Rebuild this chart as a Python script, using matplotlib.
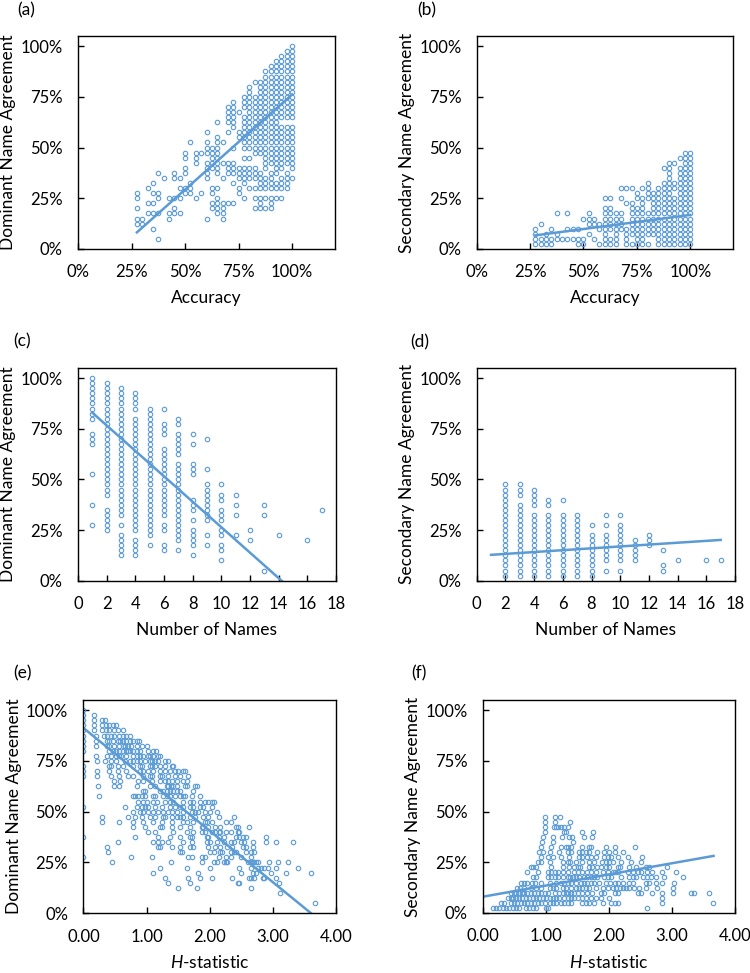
import matplotlib
matplotlib.use("Agg")
import matplotlib.pyplot as plt

plt.rcParams['font.family'] = ['Lato', 'DejaVu Sans']
plt.rcParams['mathtext.fontset'] = 'custom'
plt.rcParams['mathtext.rm'] = 'Lato'
plt.rcParams['mathtext.it'] = 'Lato:italic'

BLUE = '#5b9bd5'
N_RESP = 40  # agreement counts are out of 40 responses

# ---- (a)/(b): accuracy (%) vs dominant / secondary agreement (counts) ----
accuracy = [27.5, 30.0, 32.5, 35.0, 37.5, 40.0, 42.5, 45.0, 47.5, 50.0,
            52.5, 55.0, 57.5, 60.0, 62.5, 65.0, 67.5, 70.0, 72.5, 75.0,
            77.5, 80.0, 82.5, 85.0, 87.5, 90.0, 92.5, 95.0, 97.5, 100.0]

dom_by_acc = [
    [5, 6, 8, 10, 11],
    [5, 6],
    [7, 9, 12],
    [4, 7, 9, 11, 13],
    [2, 7, 10, 11, 15],
    [14],
    [6, 7, 10],
    [7, 8, 10, 14, 15],
    [7, 10, 12, 14],
    [11, 12, 15, 16, 18, 19],
    [11, 12, 13, 21],
    [10, 17, 18, 19],
    [11, 19],
    [6, 14, 15, 16, 17, 19, 20, 21, 23],
    [8, 9, 11, 12, 16, 17, 18, 19, 20],
    [7, 8, 9, 10, 12, 15, 16, 17, 18, 19, 20, 21, 22, 25],
    [6, 7, 8, 9, 14, 17, 21],
    [9, 15, 16, 17, 23, 25, 26, 27, 28],
    [9, 13, 15, 16, 17, 20, 24, 25, 26, 27, 28, 29],
    [11, 12, 14, 15, 16, 22, 23, 27],
    [10, 13, 14, 15, 16, 18, 20, 21, 22, 23, 24, 25, 26, 28, 29, 30],
    [12, 14, 15, 16, 18, 20, 21, 22, 23, 24, 25, 26, 27, 28, 29, 30, 31, 32],
    [8, 10, 12, 14, 15, 16, 19, 20, 21, 22, 23, 24, 25, 26, 27, 28, 29, 30, 33],
    [8, 9, 10, 12, 13, 14, 15, 19, 20, 21, 22, 23, 24, 25, 26, 27, 28, 29, 30,
     31, 32, 33],
    [8, 10, 12, 13, 14, 16, 17, 18, 19, 20, 21, 22, 23, 24, 25, 26, 27, 28, 29,
     30, 31, 32, 33, 34, 35],
    [8, 9, 10, 12, 13, 14, 15, 17, 18, 19, 20, 21, 22, 23, 24, 25, 26, 27, 28,
     29, 30, 31, 32, 33, 34, 35, 36],
    [10, 12, 13, 15, 16, 17, 18, 19, 20, 21, 22, 23, 24, 25, 26, 27, 28, 29, 30,
     31, 32, 33, 34, 35, 36, 37],
    [10, 12, 13, 14, 16, 17, 18, 19, 20, 21, 22, 23, 24, 26, 27, 28, 29, 30, 31,
     32, 33, 34, 35, 36, 37, 38],
    [12, 13, 14, 15, 17, 18, 19, 20, 21, 22, 23, 24, 26, 27, 28, 29, 30, 31, 32,
     33, 34, 35, 36, 37, 38, 39],
    [14, 16, 17, 18, 19, 20, 21, 22, 23, 24, 26, 27, 28, 29, 30, 31, 32, 33, 34,
     35, 36, 37, 38, 39, 40],
]

sec_by_acc = [
    [1, 2, 3, 4],
    [1, 2, 5],
    [1, 2, 3],
    [1, 2, 4],
    [2, 3, 7],
    [2],
    [2, 4, 7],
    [2, 4],
    [1, 2, 4],
    [1, 2, 6],
    [3, 5, 6, 7],
    [2, 5, 6],
    [1, 4, 5],
    [1, 2, 3, 4, 5, 6, 7, 8, 10],
    [1, 2, 4, 5, 6, 7, 8, 10],
    [1, 2, 3, 4, 5, 6, 7],
    [4, 5, 6, 7, 10, 12],
    [1, 2, 3, 4, 9, 12],
    [1, 3, 4, 5, 6, 7, 8, 9, 12],
    [1, 2, 3, 4, 5, 6, 7, 8, 10, 11],
    [1, 2, 3, 4, 5, 6, 7, 8, 9, 10, 12],
    [1, 3, 4, 5, 6, 7, 10, 11, 12, 13],
    [3, 4, 5, 6, 7, 8, 9, 10, 11],
    [1, 2, 3, 4, 5, 6, 7, 8, 9, 10, 11, 12],
    [1, 2, 3, 4, 5, 6, 7, 8, 9, 10, 11, 12, 13, 16],
    [1, 2, 3, 4, 5, 6, 7, 8, 9, 10, 11, 12, 13, 14, 15, 16, 17],
    [1, 2, 3, 4, 5, 6, 7, 8, 9, 10, 12, 13, 17],
    [1, 2, 3, 4, 5, 6, 7, 8, 9, 10, 11, 12, 13, 14, 15, 16, 18],
    [1, 2, 3, 4, 5, 6, 7, 8, 9, 10, 11, 12, 13, 14, 15, 16, 17, 18, 19],
    [1, 2, 3, 4, 5, 6, 7, 8, 9, 10, 11, 12, 13, 14, 15, 16, 17, 18, 19],
]

# ---- (c)/(d): number of names vs agreement (counts) ----
names_c = [1, 2, 3, 4, 5, 6, 7, 8, 9, 10, 11, 12, 13, 14, 16, 17]
dom_by_names = [
    [11, 15, 21, 27, 28, 29, 32, 33, 34, 35, 36, 37, 38, 39, 40],
    [10, 11, 12, 13, 14, 17, 18, 19, 20, 21, 22, 23, 24, 25, 26, 27, 28, 29,
     30, 31, 32, 33, 34, 35, 36, 37, 38, 39],
    [5, 6, 7, 8, 9, 11, 13, 14, 15, 16, 17, 18, 19, 20, 21, 22, 23, 24, 25, 26,
     27, 28, 29, 30, 31, 32, 33, 34, 35, 36, 37, 38],
    [5, 6, 7, 8, 10, 11, 12, 13, 14, 15, 16, 17, 18, 19, 20, 21, 22, 23, 24, 25,
     26, 27, 28, 29, 30, 31, 32, 34, 35, 36, 37],
    [7, 9, 10, 11, 12, 13, 14, 15, 16, 17, 18, 19, 20, 21, 22, 23, 24, 25, 26,
     27, 28, 29, 30, 31, 32, 33, 34],
    [6, 7, 10, 11, 13, 14, 15, 16, 17, 18, 19, 20, 21, 22, 23, 24, 25, 26, 29,
     30, 31, 34],
    [6, 8, 9, 10, 11, 12, 13, 14, 15, 16, 17, 18, 19, 20, 21, 22, 23, 25, 26,
     27, 28, 29, 31, 32],
    [5, 7, 8, 9, 10, 12, 14, 15, 16, 21, 22, 23, 27, 29],
    [7, 9, 12, 13, 14, 15, 16, 17, 18, 19, 22, 28],
    [4, 6, 7, 9, 10, 12, 13, 14, 16, 17, 19],
    [9, 13, 15, 17],
    [8, 10],
    [2, 13, 15],
    [9],
    [8],
    [14],
]

names_d = [2, 3, 4, 5, 6, 7, 8, 9, 10, 11, 12, 13, 14, 16, 17]
sec_by_names = [
    [1, 2, 3, 4, 5, 6, 7, 8, 9, 10, 11, 12, 13, 14, 15, 16, 17, 18, 19],
    [1, 2, 3, 4, 5, 6, 7, 8, 9, 10, 11, 12, 13, 14, 15, 17, 18, 19],
    [1, 2, 3, 4, 5, 6, 7, 8, 9, 10, 11, 12, 13, 15, 16, 17, 18],
    [1, 2, 3, 4, 5, 6, 7, 8, 9, 10, 11, 12, 13, 15, 16],
    [1, 2, 3, 4, 5, 6, 7, 8, 9, 10, 11, 12, 13, 16],
    [1, 2, 3, 4, 5, 6, 7, 8, 9, 10, 11, 12, 13],
    [1, 2, 3, 4, 5, 6, 7, 8, 9, 11],
    [2, 4, 5, 6, 7, 8, 9, 11, 13],
    [2, 4, 5, 6, 7, 8, 9, 10, 11, 13],
    [4, 5, 6, 7, 8],
    [7, 8, 9],
    [2, 3, 6],
    [4],
    [4],
    [4],
]

# ---- (e): H-statistic vs dominant agreement (counts) ----
dom_at_h0 = [11, 15, 21, 27, 28, 29, 32, 33, 34, 35, 36, 37, 38, 39, 40]
dom_levels_e = [39, 38, 37, 36, 35, 34, 33, 32, 31, 30, 29, 28, 27, 26, 25, 24,
                23, 22, 21, 20, 19, 18, 17, 16, 15, 14, 13, 12, 11, 10, 9, 8,
                7, 6, 5, 4, 2]
h_by_dom = [
    [0.17],
    [0.17, 0.29, 0.34],
    [0.17, 0.29, 0.35, 0.40, 0.46, 0.52],
    [0.17, 0.30, 0.36, 0.41, 0.49, 0.54, 0.62],
    [0.20, 0.32, 0.37, 0.44, 0.49, 0.57, 0.62, 0.67, 0.73],
    [0.20, 0.37, 0.41, 0.46, 0.54, 0.58, 0.62, 0.68, 0.73, 0.78, 0.84, 0.88],
    [0.20, 0.38, 0.41, 0.49, 0.57, 0.62, 0.65, 0.70, 0.76, 0.84, 0.92, 1.00],
    [0.41, 0.46, 0.52, 0.57, 0.62, 0.67, 0.70, 0.73, 0.78, 0.84, 0.89, 1.02,
     1.10, 1.15],
    [0.20, 0.38, 0.44, 0.52, 0.57, 0.60, 0.68, 0.78, 0.84, 0.89, 0.94, 1.02,
     1.05, 1.10, 1.18, 1.21],
    [0.21, 0.34, 0.44, 0.52, 0.65, 0.73, 0.78, 0.84, 0.89, 0.97, 1.05, 1.08,
     1.13, 1.18, 1.29, 1.34],
    [0.40, 0.44, 0.54, 0.62, 0.78, 0.89, 0.93, 1.05, 1.09, 1.13, 1.21, 1.29,
     1.40, 1.42],
    [0.21, 0.41, 0.55, 0.68, 0.89, 0.94, 1.02, 1.10, 1.21, 1.29, 1.37, 1.45,
     1.49, 1.58, 1.61],
    [0.22, 0.44, 0.56, 0.70, 0.78, 0.94, 1.05, 1.08, 1.21, 1.25, 1.34, 1.45,
     1.53, 1.66],
    [0.49, 0.58, 0.86, 0.94, 1.08, 1.21, 1.29, 1.34, 1.40, 1.48, 1.58, 1.64],
    [0.23, 0.49, 0.57, 0.84, 1.05, 1.13, 1.32, 1.34, 1.38, 1.42, 1.48, 1.61,
     1.64, 1.77, 1.80],
    [0.94, 0.97, 1.21, 1.26, 1.32, 1.37, 1.42, 1.48, 1.53, 1.74],
    [0.25, 0.78, 0.81, 0.86, 0.92, 0.97, 1.10, 1.13, 1.26, 1.32, 1.37, 1.45,
     1.53, 1.58, 1.61, 1.72, 1.85],
    [0.86, 0.94, 1.00, 1.10, 1.16, 1.29, 1.37, 1.42, 1.58, 1.69, 1.74, 1.85,
     1.93, 1.98, 2.04, 2.06],
    [0.65, 0.84, 0.92, 0.97, 1.02, 1.13, 1.24, 1.37, 1.45, 1.53, 1.58, 1.69,
     1.74, 1.85, 1.90, 2.04],
    [0.78, 0.89, 0.94, 1.02, 1.10, 1.18, 1.26, 1.34, 1.40, 1.48, 1.58, 1.72,
     1.77, 1.82, 1.93, 2.01, 2.12],
    [0.29, 0.70, 0.81, 0.92, 1.05, 1.13, 1.26, 1.29, 1.40, 1.48, 1.53, 1.58,
     1.69, 1.77, 1.90, 1.98, 2.14, 2.38],
    [0.30, 0.57, 0.78, 0.94, 1.10, 1.24, 1.40, 1.58, 1.64, 1.74, 1.93, 1.96,
     2.04, 2.25, 2.33],
    [0.78, 0.97, 1.21, 1.24, 1.40, 1.53, 1.69, 1.88, 1.90, 1.98, 2.09, 2.17,
     2.41, 2.44, 2.62],
    [1.02, 1.13, 1.42, 1.64, 1.74, 1.88, 1.93, 2.04, 2.09, 2.14, 2.17, 2.25,
     2.33, 2.44, 2.46],
    [0.81, 1.18, 1.37, 1.53, 1.69, 1.72, 1.96, 1.98, 2.14, 2.22, 2.41, 2.46,
     2.52, 2.57, 2.89],
    [0.54, 1.10, 1.18, 1.24, 1.34, 1.58, 1.72, 1.96, 2.01, 2.12, 2.22, 2.33,
     2.38, 2.49, 2.54, 2.68, 2.89, 3.05, 3.32],
    [0.37, 1.18, 1.21, 1.40, 1.53, 1.69, 1.74, 1.98, 2.09, 2.17, 2.28, 2.36,
     2.52, 2.57, 2.68],
    [0.39, 1.53, 1.56, 2.01, 2.06, 2.17, 2.20, 2.33, 2.38, 2.41, 2.57, 2.65,
     2.70],
    [0.76, 1.08, 1.66, 1.72, 1.88, 1.93, 2.14, 2.25, 2.33, 2.49, 2.65],
    [0.45, 1.39, 1.88, 2.06, 2.12, 2.22, 2.25, 2.28, 2.60, 2.65, 2.68, 2.70,
     2.73, 2.76, 2.94, 3.08, 3.24],
    [1.21, 1.64, 2.01, 2.46, 2.65, 2.76, 2.81, 2.86, 2.92, 3.05, 3.40],
    [1.10, 1.82, 2.49, 2.68, 2.73, 2.97, 3.21, 3.61],
    [1.29, 1.66, 1.85, 2.04, 2.36, 2.62, 2.65, 2.70, 2.84, 2.86, 3.05],
    [1.34, 1.69, 2.44, 2.46, 3.10],
    [1.50, 1.80, 2.65],
    [3.12],
    [3.66],
]

# ---- (f): H-statistic vs secondary agreement (counts) ----
sec_levels_f = [19, 18, 17, 16, 15, 14, 13, 12, 11, 10, 9, 8, 7, 6, 5, 4, 3, 2, 1]
h_by_sec = [
    [0.99, 1.14, 1.23],
    [0.99, 1.15, 1.38],
    [0.98, 1.13, 1.16, 1.20, 1.24, 1.29, 1.36],
    [0.98, 1.29, 1.32, 1.58, 1.75],
    [0.96, 1.12, 1.25, 1.37, 1.42, 1.61, 1.74],
    [0.94, 1.11, 1.43],
    [0.92, 1.08, 1.24, 1.32, 1.36, 1.40, 1.58, 1.69, 1.72, 1.95, 2.10, 2.42],
    [0.89, 0.95, 1.06, 1.21, 1.36, 1.40, 1.53, 1.58, 1.64, 1.69, 1.81, 1.93,
     2.00, 2.09, 2.22],
    [0.92, 1.03, 1.11, 1.24, 1.37, 1.53, 1.58, 1.66, 1.72, 1.80, 1.93, 1.98,
     2.03, 2.14, 2.30, 2.53],
    [0.87, 0.92, 1.06, 1.27, 1.35, 1.38, 1.48, 1.58, 1.68, 1.77, 1.89, 1.95,
     2.00, 2.06, 2.19, 2.35, 2.51],
    [0.77, 0.79, 0.85, 1.08, 1.27, 1.37, 1.45, 1.51, 1.54, 1.69, 1.74, 1.82,
     1.88, 1.95, 2.01, 2.14, 2.17, 2.32, 2.43, 2.59, 2.64, 2.92],
    [0.71, 0.87, 1.03, 1.08, 1.15, 1.19, 1.27, 1.35, 1.45, 1.51, 1.58, 1.66,
     1.72, 1.80, 1.90, 1.98, 2.06, 2.09, 2.14, 2.30, 2.38, 2.46, 2.51, 2.61,
     2.69, 2.85, 3.06],
    [0.79, 0.85, 1.03, 1.08, 1.14, 1.19, 1.27, 1.35, 1.38, 1.43, 1.48, 1.53,
     1.61, 1.66, 1.72, 1.77, 1.82, 1.93, 1.98, 2.03, 2.19, 2.32, 2.38, 2.43,
     2.54, 2.61, 2.67, 2.75, 2.88, 3.17],
    [0.61, 0.66, 0.71, 0.78, 0.83, 0.92, 1.06, 1.16, 1.24, 1.29, 1.35, 1.40,
     1.48, 1.56, 1.61, 1.66, 1.72, 1.77, 1.85, 1.95, 2.02, 2.09, 2.14, 2.22,
     2.32, 2.38, 2.59, 2.64, 2.75, 2.85, 3.04],
    [0.54, 0.59, 0.66, 0.77, 0.85, 0.92, 1.06, 1.11, 1.16, 1.27, 1.32, 1.40,
     1.48, 1.53, 1.58, 1.64, 1.69, 1.80, 1.90, 1.98, 2.06, 2.11, 2.17, 2.22,
     2.27, 2.32, 2.40, 2.48, 2.59, 2.77, 3.01],
    [0.45, 0.49, 0.53, 0.57, 0.62, 0.66, 0.71, 0.77, 0.82, 0.87, 0.92, 0.98,
     1.03, 1.14, 1.21, 1.27, 1.32, 1.36, 1.40, 1.45, 1.51, 1.58, 1.66, 1.74,
     1.88, 1.93, 2.09, 2.14, 2.46, 2.51, 2.68, 2.85, 3.01, 3.30, 3.35, 3.59],
    [0.40, 0.45, 0.48, 0.53, 0.58, 0.63, 0.69, 0.74, 0.79, 0.85, 0.90, 0.95,
     1.00, 1.06, 1.11, 1.16, 1.21, 1.29, 1.35, 1.40, 1.45, 1.51, 1.58, 1.64,
     1.72, 1.80, 1.88, 2.01, 2.85],
    [0.29, 0.33, 0.45, 0.50, 0.55, 0.61, 0.66, 0.71, 0.77, 0.82, 0.87, 0.92,
     0.98, 1.06, 1.11, 1.16, 1.24, 1.29, 1.35, 1.40, 1.58, 1.64, 1.69, 1.77,
     1.90, 2.03, 2.09, 2.14, 2.85, 3.65],
    [0.16, 0.21, 0.26, 0.32, 0.37, 0.42, 0.48, 0.53, 0.58, 0.69, 0.74, 0.79,
     0.85, 1.00, 1.03, 2.61],
]

# linear fits: (intercept %, slope)
fit_a = (-17.6, 0.938)
fit_b = (2.9, 0.139)
fit_c = (89.2, -6.28)
fit_d = (12.3, 0.46)
fit_e = (91.2, -25.3)
fit_f = (8.0, 5.5)


def by_x(xs, groups):
    # x value shared by a group of counts
    x = [xv for xv, g in zip(xs, groups) for _ in g]
    y = [c / N_RESP * 100 for g in groups for c in g]
    return x, y


def by_y(levels, groups):
    # one agreement level shared by a group of H values
    x = [h for g in groups for h in g]
    y = [lv / N_RESP * 100 for lv, g in zip(levels, groups) for _ in g]
    return x, y


fig = plt.figure(figsize=(7.5, 9.73), dpi=100)

pos = {
    'a': [0.1040, 0.7441, 0.3427, 0.2189],
    'b': [0.6356, 0.7441, 0.3417, 0.2189],
    'c': [0.1040, 0.4032, 0.3440, 0.2186],
    'd': [0.6356, 0.4032, 0.3444, 0.2186],
    'e': [0.1113, 0.0614, 0.3367, 0.2192],
    'f': [0.6436, 0.0617, 0.3364, 0.2189],
}
lab_pos = {'a': (17, 10), 'b': (417, 10), 'c': (13, 341), 'd': (410, 342),
           'e': (13, 673), 'f': (411, 673)}

panels = {
    'a': (by_x(accuracy, dom_by_acc), fit_a, (accuracy[0], accuracy[-1]),
          'Dominant Name Agreement', 'Accuracy'),
    'b': (by_x(accuracy, sec_by_acc), fit_b, (accuracy[0], accuracy[-1]),
          'Secondary Name Agreement', 'Accuracy'),
    'c': (by_x(names_c, dom_by_names), fit_c, (names_c[0], names_c[-1]),
          'Dominant Name Agreement', 'Number of Names'),
    'd': (by_x(names_d, sec_by_names), fit_d, (names_c[0], names_c[-1]),
          'Secondary Name Agreement', 'Number of Names'),
}
ex, ey = by_y(dom_levels_e, h_by_dom)
ex = [0.0] * len(dom_at_h0) + ex
ey = [c / N_RESP * 100 for c in dom_at_h0] + ey
panels['e'] = ((ex, ey), fit_e, (0.0, max(ex)), 'Dominant Name Agreement',
               '$\\mathit{H}$-statistic')
panels['f'] = (by_y(sec_levels_f, h_by_sec), fit_f, (0.0, max(ex)),
               'Secondary Name Agreement', '$\\mathit{H}$-statistic')

for key, ((x, y), (b0, b1), (x0, x1), ylab, xlab) in panels.items():
    ax = fig.add_axes(pos[key])
    ax.plot(x, y, 'o', ms=3.2, mfc='none', mec=BLUE, mew=0.8)
    ax.plot([x0, x1], [b0 + b1 * x0, b0 + b1 * x1], color=BLUE, lw=1.8)
    ax.set_ylim(0, 105)
    ax.set_yticks([0, 25, 50, 75, 100])
    ax.set_yticklabels(['0%', '25%', '50%', '75%', '100%'])
    if key in 'ab':
        ax.set_xlim(0, 120)
        ax.set_xticks([0, 25, 50, 75, 100])
        ax.set_xticklabels(['0%', '25%', '50%', '75%', '100%'])
    elif key in 'cd':
        ax.set_xlim(0, 18)
        ax.set_xticks(range(0, 19, 2))
    else:
        ax.set_xlim(0, 4)
        ax.set_xticks([0, 1, 2, 3, 4])
        ax.set_xticklabels(['0.00', '1.00', '2.00', '3.00', '4.00'])
    ax.tick_params(direction='in', length=4, width=1, labelsize=12, pad=11)
    for s in ax.spines.values():
        s.set_linewidth(1)
    ax.set_ylabel(ylab, fontsize=12.5, labelpad=3)
    ax.set_xlabel(xlab, fontsize=12.5, labelpad=7)
    lx, ly = lab_pos[key]
    fig.text(lx / 750, 1 - ly / 973, '(%s)' % key, fontsize=12.5, va='center')

fig.savefig('out.png', dpi=100)
